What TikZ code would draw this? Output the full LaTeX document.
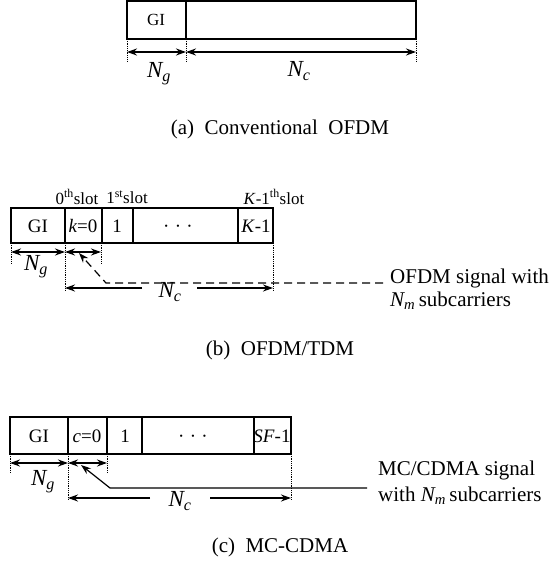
\documentclass[tikz,border=0pt]{standalone}
\usepackage{amsmath}
\usepackage{fontspec}
\setmainfont{Liberation Serif}
\usetikzlibrary{arrows.meta}

\begin{document}
\begin{tikzpicture}[x=1pt, y=-1pt, >={Stealth[length=10pt,width=7pt]},
    frame/.style={line width=1.4pt},
    guide/.style={densely dotted, line width=0.8pt},
    dim/.style={<->, line width=1.6pt},
    lead/.style={->, line width=1.2pt},
    cell/.style={inner sep=0pt, font=\fontsize{19}{22}\selectfont},
    small/.style={inner sep=0pt, font=\fontsize{17}{20}\selectfont},
    txt/.style={inner sep=0pt, font=\fontsize{21}{25}\selectfont},
    len/.style={inner sep=0pt, font=\fontsize{23}{26}\selectfont}]
\useasboundingbox (0,0) rectangle (556,570);

% (a) conventional OFDM
\coordinate (a1) at (127,39);
\coordinate (a2) at (186,39);
\coordinate (a3) at (416,39);
\draw[frame] (127,1) rectangle (a3);
\draw[frame] (186,1) -- (a2);
\node[small] (a-gi) at (156,20) {GI};
\foreach \p in {a1,a2,a3}{
    \draw[guide] (\p) -- ++(0,22);
}
\coordinate (ad1) at (127,52);
\coordinate (ad2) at (186,52);
\coordinate (ad3) at (416,52);
\draw[dim] (ad1) -- (ad2);
\draw[dim] (ad2) -- (ad3);
\node[len] (a-ng) at (159,74) {$\textit{N}_{\textit{g}}$};
\node[len] (a-nc) at (299,71) {$\textit{N}_{\textit{c}}$};
\node[txt] (a-cap) at (280,129) {(a)\ \ Conventional\ \ OFDM};

% (b) OFDM/TDM
\draw[frame] (11,208) rectangle (273,243);
\foreach \x in {65,102,133,238}{
    \draw[frame] (\x,208) -- (\x,243);
}
\node[cell] (b-gi) at (38,226) {GI};
\node[cell] (b-k0) at (83,226) {\textit{k}=0};
\node[cell] (b-one) at (117,226) {1};
\node[cell] (b-dots) at (178,226) {\vphantom{1}·\;·\;·};
\node[cell] (b-km) at (256,226) {\textit{K}-1};
\node[small] (b-s0) at (77,197) {0\textsuperscript{th}slot};
\node[small] (b-s1) at (127,197) {1\textsuperscript{st}slot};
\node[small] (b-sk) at (274,197) {\textit{K}-1\textsuperscript{th}slot};
\coordinate (b1) at (11,243);
\coordinate (b2) at (65,243);
\coordinate (b3) at (101,243);
\coordinate (b4) at (273,243);
\foreach \p in {b1,b3}{
    \draw[guide] (\p) -- ++(0,20);
}
\foreach \p in {b2,b4}{
    \draw[guide] (\p) -- ++(0,48);
}
\coordinate (bd1) at (11,252);
\coordinate (bd2) at (65,252);
\coordinate (bd3) at (101,252);
\draw[dim] (bd1) -- (bd2);
\draw[dim] (bd2) -- (bd3);
\node[len] (b-ng) at (36,267) {$\textit{N}_{\textit{g}}$};
\node[len] (b-nc) at (170,292) {$\textit{N}_{\textit{c}}$};
\coordinate (bc1) at (65,288);
\coordinate (bc2) at (273,288);
\draw[->, line width=1.6pt] (142,288) -- (bc1);
\draw[->, line width=1.6pt] (197,288) -- (bc2);
\coordinate (b-tip) at (79,253);
\coordinate (b-bend) at (106,283);
\coordinate (b-end) at (383,283);
\draw[lead, dash pattern=on 8pt off 5pt] (b-end) -- (b-bend) -- (b-tip);
\node[txt, anchor=west] (b-sig) at (390,278) {OFDM signal with};
\node[txt, anchor=west] (b-sub) at (390,301) {$\textit{N}_{\textit{m}}$\,subcarriers};
\node[txt] (b-cap) at (280,350) {(b)\ \ OFDM/TDM};

% (c) MC-CDMA
\draw[frame] (10,417) rectangle (291,454);
\foreach \x in {68,107,142,254}{
    \draw[frame] (\x,417) -- (\x,454);
}
\node[cell] (c-gi) at (39,436) {GI};
\node[cell] (c-c0) at (87,436) {\textit{c}=0};
\node[cell] (c-one) at (125,436) {1};
\node[cell] (c-dots) at (193,436) {\vphantom{1}·\;·\;·};
\node[cell] (c-sf) at (272,436) {\textit{SF}-1};
\coordinate (c1) at (10,454);
\coordinate (c2) at (68,454);
\coordinate (c3) at (107,454);
\coordinate (c4) at (291,454);
\foreach \p in {c1,c3}{
    \draw[guide] (\p) -- ++(0,19);
}
\foreach \p in {c2,c4}{
    \draw[guide] (\p) -- ++(0,46);
}
\coordinate (cd1) at (10,463);
\coordinate (cd2) at (68,463);
\coordinate (cd3) at (107,463);
\draw[dim] (cd1) -- (cd2);
\draw[dim] (cd2) -- (cd3);
\node[len] (c-ng) at (43,482) {$\textit{N}_{\textit{g}}$};
\node[len] (c-nc) at (180,501) {$\textit{N}_{\textit{c}}$};
\coordinate (cc1) at (68,498);
\coordinate (cc2) at (291,498);
\draw[->, line width=1.6pt] (150,498) -- (cc1);
\draw[->, line width=1.6pt] (210,498) -- (cc2);
\coordinate (c-tip) at (81,465);
\coordinate (c-bend) at (110,488);
\coordinate (c-end) at (367,488);
\draw[lead] (c-end) -- (c-bend) -- (c-tip);
\node[txt, anchor=west] (c-sig) at (378,470) {MC/CDMA signal};
\node[txt, anchor=west] (c-sub) at (378,496) {with $\textit{N}_{\textit{m}}$\,subcarriers};
\node[txt] (c-cap) at (280,547) {(c)\ \ MC-CDMA};
\end{tikzpicture}
\end{document}
